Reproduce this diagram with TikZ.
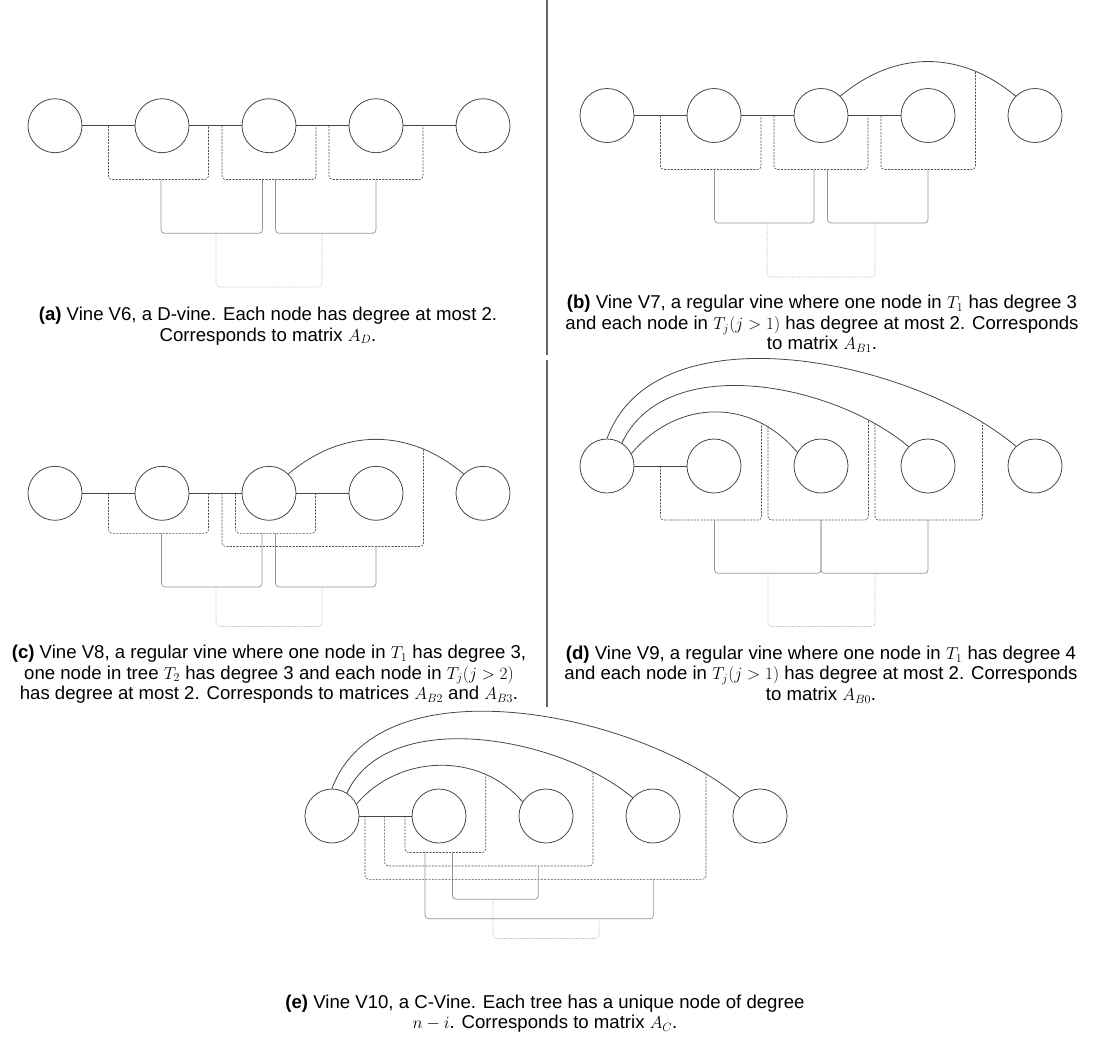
\documentclass[tikz,border=0pt]{standalone}
\usepackage[no-math]{fontspec}
\setmainfont{Liberation Sans}
\usetikzlibrary{intersections}
\newcommand\onarc[3]{%
  \path[name path=vtmp] (#2,0) -- (#2,1039);
  \path[name intersections={of=#1 and vtmp, by=#3}];}
\begin{document}
\begin{tikzpicture}[x=1pt,y=-1pt,
  vnode/.style={circle,draw=black!72,line width=0.8pt,minimum size=54pt,inner sep=0pt},
  t1/.style={draw=black!72,line width=0.8pt},
  t2/.style={draw=black!70,line width=0.6pt,dash pattern=on 2pt off 1.3pt,rounded corners=3.5pt},
  t3/.style={draw=black!42,line width=0.7pt,rounded corners=3.5pt},
  t4/.style={draw=black!30,line width=0.6pt,dash pattern=on 0.8pt off 1pt,rounded corners=3.5pt},
  sepline/.style={draw=black!60,line width=1.4pt},
  captext/.style={align=center,inner sep=0pt,font=\fontsize{18.6}{20.5}\selectfont}]
\useasboundingbox (0,0) rectangle (1096,1039);
% separators
\coordinate (s1) at (547,0); \coordinate (s2) at (547,355);
\coordinate (s3) at (547,360); \coordinate (s4) at (547,707);
\draw[sepline] (s1) -- (s2);
\draw[sepline] (s3) -- (s4);

% ---------------- (a) ----------------
\foreach \i/\x in {1/55,2/162,3/269,4/376,5/483}
  \node[vnode] (a\i) at (\x,125.7) {};
\draw[t1] (a1) -- (a2); \draw[t1] (a2) -- (a3); \draw[t1] (a3) -- (a4); \draw[t1] (a4) -- (a5);
\draw[t2] (108.5,125.7) -- (108.5,179.5) -- (208.5,179.5) -- (208.5,125.7);
\draw[t2] (222,125.7) -- (222,179.5) -- (316,179.5) -- (316,125.7);
\draw[t2] (329,125.7) -- (329,179.5) -- (423,179.5) -- (423,125.7);
\draw[t3] (161,179.5) -- (161,233.3) -- (262.5,233.3) -- (262.5,179.5);
\draw[t3] (275.5,179.5) -- (275.5,233.3) -- (376,233.3) -- (376,179.5);
\draw[t4] (216,233.3) -- (216,287) -- (322,287) -- (322,233.3);
\node[captext] (capa) at (268,326) {\textbf{(a)} Vine V6, a D-vine. Each node has degree at most 2.\\Corresponds to matrix $A_D$.};

% ---------------- (b) ----------------
\foreach \i/\x in {1/607,2/714,3/821,4/928,5/1035}
  \node[vnode] (b\i) at (\x,115.5) {};
\draw[t1] (b1) -- (b2); \draw[t1] (b2) -- (b3); \draw[t1] (b3) -- (b4);
\draw[t1,name path=b35] (b3.45) to[out=40,in=140,looseness=1.05] (b5.135);
\onarc{b35}{975.5}{bq}
\draw[t2] (660.5,115.5) -- (660.5,169.5) -- (761,169.5) -- (761,115.5);
\draw[t2] (774,115.5) -- (774,169.5) -- (868,169.5) -- (868,115.5);
\draw[t2] (881,115.5) -- (881,169.5) -- (975.5,169.5) -- (bq);
\draw[t3] (714.5,169.5) -- (714.5,223) -- (814,223) -- (814,169.5);
\draw[t3] (827.5,169.5) -- (827.5,223) -- (928,223) -- (928,169.5);
\draw[t4] (767,223) -- (767,277) -- (875,277) -- (875,223);
\node[captext] (capb) at (822,324) {\textbf{(b)} Vine V7, a regular vine where one node in $T_1$ has degree 3\\and each node in $T_j(j>1)$ has degree at most 2. Corresponds\\to matrix $A_{B1}$.};

% ---------------- (c) ----------------
\foreach \i/\x in {1/55,2/162,3/269,4/376,5/483}
  \node[vnode] (c\i) at (\x,493.3) {};
\draw[t1] (c1) -- (c2); \draw[t1] (c2) -- (c3); \draw[t1] (c3) -- (c4);
\draw[t1,name path=c35] (c3.45) to[out=40,in=140,looseness=1.05] (c5.135);
\onarc{c35}{423.5}{cq}
\draw[t2] (108.5,493.3) -- (108.5,533.3) -- (208.5,533.3) -- (208.5,493.3);
\draw[t2] (235.5,493.3) -- (235.5,533.3) -- (315.5,533.3) -- (315.5,493.3);
\draw[t2] (222,493.3) -- (222,546.5) -- (423.5,546.5) -- (cq);
\draw[t3] (161.5,533.3) -- (161.5,587) -- (262,587) -- (262,533.3);
\draw[t3] (275.5,533.3) -- (275.5,587) -- (376,587) -- (376,546.5);
\draw[t4] (216,587) -- (216,626.5) -- (322,626.5) -- (322,587);
\node[captext] (capc) at (269,674.5) {\textbf{(c)} Vine V8, a regular vine where one node in $T_1$ has degree 3,\\one node in tree $T_2$ has degree 3 and each node in $T_j(j>2)$\\has degree at most 2. Corresponds to matrices $A_{B2}$ and $A_{B3}$.};

% ---------------- (d) ----------------
\foreach \i/\x in {1/607,2/714,3/821,4/928,5/1035}
  \node[vnode] (d\i) at (\x,466) {};
\draw[t1] (d1) -- (d2);
\draw[t1,name path=d13] (d1.27) to[out=50,in=130,looseness=1.1] (d3.150);
\draw[t1,name path=d14] (d1.57) to[out=65,in=140,looseness=0.9] (d4.135);
\draw[t1,name path=d15] (d1.90) to[out=70,in=140,looseness=0.87] (d5.134);
\onarc{d13}{761.5}{dq1} \onarc{d13}{768}{dq2}
\onarc{d14}{868.5}{dq3} \onarc{d14}{875}{dq4}
\onarc{d15}{982.5}{dq5}
\draw[t2] (660.5,466) -- (660.5,520) -- (761.5,520) -- (dq1);
\draw[t2] (dq2) -- (768,520) -- (868.5,520) -- (dq3);
\draw[t2] (dq4) -- (875,520) -- (982.5,520) -- (dq5);
\draw[t3] (714.5,520) -- (714.5,573.3) -- (821,573.3) -- (821,520);
\draw[t3] (821,520) -- (821,573.3) -- (928,573.3) -- (928,520);
\draw[t4] (768,573.3) -- (768,626.5) -- (875,626.5) -- (875,573.3);
\node[captext] (capd) at (821,674.5) {\textbf{(d)} Vine V9, a regular vine where one node in $T_1$ has degree 4\\and each node in $T_j(j>1)$ has degree at most 2. Corresponds\\to matrix $A_{B0}$.};

% ---------------- (e) ----------------
\foreach \i/\x in {1/332,2/439,3/546,4/653,5/760}
  \node[vnode] (e\i) at (\x,816) {};
\draw[t1] (e1) -- (e2);
\draw[t1,name path=e13] (e1.26) to[out=50,in=130,looseness=1.01] (e3.149);
\draw[t1,name path=e14] (e1.57) to[out=65,in=140,looseness=0.86] (e4.138);
\draw[t1,name path=e15] (e1.90) to[out=70,in=140,looseness=0.85] (e5.138);
\onarc{e13}{485.7}{eq1} \onarc{e14}{593}{eq2} \onarc{e15}{706}{eq3}
\draw[t2] (405,816) -- (405,852.5) -- (485.7,852.5) -- (eq1);
\draw[t2] (384.6,816) -- (384.6,866) -- (593,866) -- (eq2);
\draw[t2] (365,816) -- (365,879.3) -- (706,879.3) -- (eq3);
\draw[t3] (452.5,852.5) -- (452.5,899.3) -- (538.2,899.3) -- (538.2,866);
\draw[t3] (425,852.5) -- (425,918.7) -- (653.6,918.7) -- (653.6,879.3);
\draw[t4] (493,899.3) -- (493,938.5) -- (599,938.5) -- (599,918.7);
\node[captext] (cape) at (545,1013.5) {\textbf{(e)} Vine V10, a C-Vine. Each tree has a unique node of degree\\$n-i$. Corresponds to matrix $A_C$.};
\end{tikzpicture}
\end{document}
